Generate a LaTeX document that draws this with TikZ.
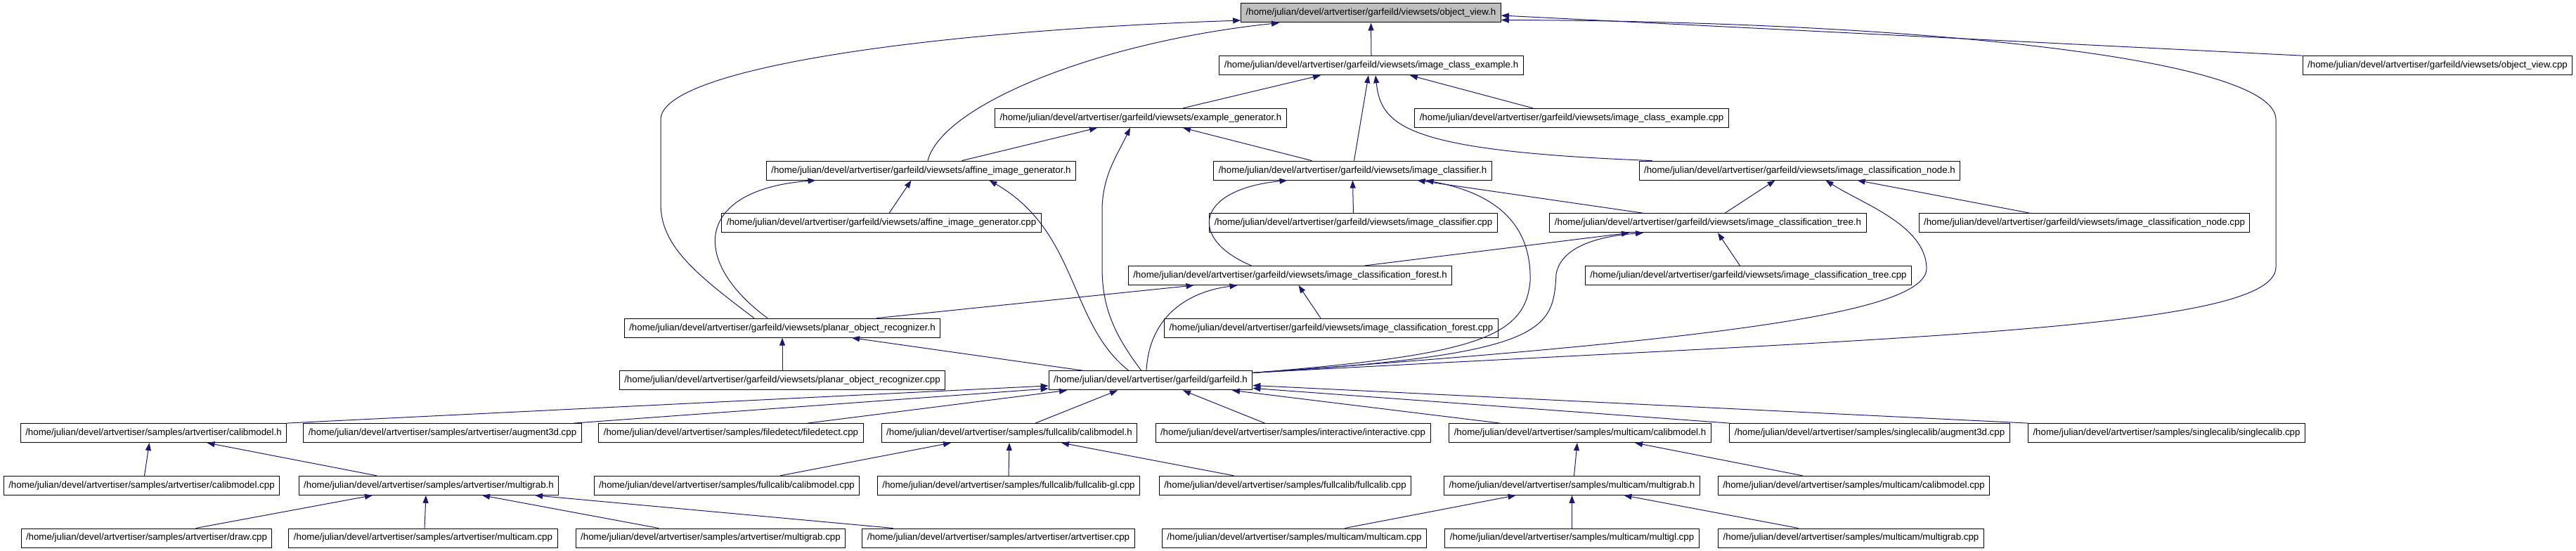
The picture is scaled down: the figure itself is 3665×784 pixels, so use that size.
\documentclass[tikz,border=0pt]{standalone}
\usepackage{fontspec}
\setmainfont{Liberation Sans}
\usetikzlibrary{arrows.meta}
\definecolor{edgeblue}{HTML}{191970}
\definecolor{selgray}{HTML}{BFBFBF}
\begin{document}
\begin{tikzpicture}[x=1pt, y=-1pt,
  file/.style={draw, line width=1pt, minimum height=27pt, inner xsep=7pt, inner ysep=0pt,
    font=\fontsize{13.3}{16}\selectfont},
  dep/.style={draw=edgeblue, line width=1pt, ->, >={Triangle[length=11pt,width=8pt]}}]
\useasboundingbox (0,0) rectangle (3665,784);
\node[file, fill=selgray] (ovh) at (1950.5,18.5) {/home/julian/devel/artvertiser/garfeild/viewsets/object\_view.h};
\node[file] (ice) at (1951,93.2) {/home/julian/devel/artvertiser/garfeild/viewsets/image\_class\_example.h};
\node[file] (ovcpp) at (3468,93.2) {/home/julian/devel/artvertiser/garfeild/viewsets/object\_view.cpp};
\node[file] (egen) at (1623,167.9) {/home/julian/devel/artvertiser/garfeild/viewsets/example\_generator.h};
\node[file] (icecpp) at (2236,167.9) {/home/julian/devel/artvertiser/garfeild/viewsets/image\_class\_example.cpp};
\node[file] (aig) at (1310.5,242.6) {/home/julian/devel/artvertiser/garfeild/viewsets/affine\_image\_generator.h};
\node[file] (icls) at (1924.5,242.6) {/home/julian/devel/artvertiser/garfeild/viewsets/image\_classifier.h};
\node[file] (icn) at (2560.5,242.6) {/home/julian/devel/artvertiser/garfeild/viewsets/image\_classification\_node.h};
\node[file] (aigcpp) at (1254,317.3) {/home/julian/devel/artvertiser/garfeild/viewsets/affine\_image\_generator.cpp};
\node[file] (iclscpp) at (1925.5,317.3) {/home/julian/devel/artvertiser/garfeild/viewsets/image\_classifier.cpp};
\node[file] (ict) at (2430,317.3) {/home/julian/devel/artvertiser/garfeild/viewsets/image\_classification\_tree.h};
\node[file] (icncpp) at (2965.5,317.3) {/home/julian/devel/artvertiser/garfeild/viewsets/image\_classification\_node.cpp};
\node[file] (icf) at (1835.5,392) {/home/julian/devel/artvertiser/garfeild/viewsets/image\_classification\_forest.h};
\node[file] (ictcpp) at (2487.5,392) {/home/julian/devel/artvertiser/garfeild/viewsets/image\_classification\_tree.cpp};
\node[file] (por) at (1113,466.7) {/home/julian/devel/artvertiser/garfeild/viewsets/planar\_object\_recognizer.h};
\node[file] (icfcpp) at (1894,466.7) {/home/julian/devel/artvertiser/garfeild/viewsets/image\_classification\_forest.cpp};
\node[file] (porcpp) at (1113,541.4) {/home/julian/devel/artvertiser/garfeild/viewsets/planar\_object\_recognizer.cpp};
\node[file] (garf) at (1637,541.4) {/home/julian/devel/artvertiser/garfeild/garfeild.h};
\node[file] (acal) at (218.5,616.1) {/home/julian/devel/artvertiser/samples/artvertiser/calibmodel.h};
\node[file] (aaug) at (629.5,616.1) {/home/julian/devel/artvertiser/samples/artvertiser/augment3d.cpp};
\node[file] (fdet) at (1040,616.1) {/home/julian/devel/artvertiser/samples/filedetect/filedetect.cpp};
\node[file] (fcal) at (1436,616.1) {/home/julian/devel/artvertiser/samples/fullcalib/calibmodel.h};
\node[file] (inter) at (1839.5,616.1) {/home/julian/devel/artvertiser/samples/interactive/interactive.cpp};
\node[file] (mcal) at (2248,616.1) {/home/julian/devel/artvertiser/samples/multicam/calibmodel.h};
\node[file] (saug) at (2660,616.1) {/home/julian/devel/artvertiser/samples/singlecalib/augment3d.cpp};
\node[file] (scal) at (3082.5,616.1) {/home/julian/devel/artvertiser/samples/singlecalib/singlecalib.cpp};
\node[file] (acalcpp) at (201.5,690.8) {/home/julian/devel/artvertiser/samples/artvertiser/calibmodel.cpp};
\node[file] (amg) at (610,690.8) {/home/julian/devel/artvertiser/samples/artvertiser/multigrab.h};
\node[file] (fcalcpp) at (1034,690.8) {/home/julian/devel/artvertiser/samples/fullcalib/calibmodel.cpp};
\node[file] (fcalgl) at (1435,690.8) {/home/julian/devel/artvertiser/samples/fullcalib/fullcalib-gl.cpp};
\node[file] (fcalib) at (1828.5,690.8) {/home/julian/devel/artvertiser/samples/fullcalib/fullcalib.cpp};
\node[file] (mmg) at (2236.5,690.8) {/home/julian/devel/artvertiser/samples/multicam/multigrab.h};
\node[file] (mcalcpp) at (2637.5,690.8) {/home/julian/devel/artvertiser/samples/multicam/calibmodel.cpp};
\node[file] (adraw) at (208.5,765.5) {/home/julian/devel/artvertiser/samples/artvertiser/draw.cpp};
\node[file] (amcam) at (602,765.5) {/home/julian/devel/artvertiser/samples/artvertiser/multicam.cpp};
\node[file] (amgcpp) at (1011,765.5) {/home/julian/devel/artvertiser/samples/artvertiser/multigrab.cpp};
\node[file] (artv) at (1420.5,765.5) {/home/julian/devel/artvertiser/samples/artvertiser/artvertiser.cpp};
\node[file] (mmcam) at (1841.5,765.5) {/home/julian/devel/artvertiser/samples/multicam/multicam.cpp};
\node[file] (mgl) at (2236.5,765.5) {/home/julian/devel/artvertiser/samples/multicam/multigl.cpp};
\node[file] (mmgcpp) at (2633.5,765.5) {/home/julian/devel/artvertiser/samples/multicam/multigrab.cpp};
% object_view.h
\draw[dep] (ice.north) -- (ovh.south);
\draw[dep] (ovcpp.north west) -- ([yshift=-3.5pt]ovh.east);
\draw[dep] ([xshift=9.5pt]aig.north) .. controls (1340,150) and (1560,60) .. ([xshift=-130.5pt]ovh.south);
\draw[dep] ([xshift=-40pt]por.north) .. controls (990,390) and (940,350) .. (940,290) -- (940,170)
  .. controls (940,100) and (1300,45) .. ([yshift=-10.5pt]ovh.west);
\draw[dep] ([yshift=-3pt]garf.north east) .. controls (2700,480) and (3238,470) .. (3238,380) -- (3238,170)
  .. controls (3238,80) and (2700,30) .. ([yshift=-10pt]ovh.east);
% image_class_example.h
\draw[dep] ([xshift=60pt]egen.north) -- ([xshift=-72pt]ice.south);
\draw[dep] ([xshift=-55pt]icecpp.north) -- ([xshift=55pt]ice.south);
\draw[dep] ([xshift=2pt]icls.north) -- ([xshift=-4pt]ice.south);
\draw[dep] ([xshift=-210pt]icn.north) .. controls (2000,215) and (1965,180) .. ([xshift=6pt]ice.south);
% example_generator.h
\draw[dep] ([xshift=58pt]aig.north) -- ([xshift=-62pt]egen.south);
\draw[dep] ([xshift=-58pt]icls.north) -- ([xshift=60pt]egen.south);
\draw[dep] ([xshift=-13pt]garf.north) .. controls (1580,470) and (1568,430) .. (1568,380) -- (1568,300)
  .. controls (1568,250) and (1590,220) .. ([xshift=-15pt]egen.south);
% affine_image_generator.h
\draw[dep] ([xshift=11pt]aigcpp.north) -- ([xshift=-14pt]aig.south);
\draw[dep] ([xshift=-21pt]por.north) .. controls (980,370) and (990,270) .. ([xshift=-150pt]aig.south);
\draw[dep] ([xshift=-31pt]garf.north) .. controls (1520,460) and (1535,330) .. ([xshift=97pt]aig.south);
% image_classifier.h
\draw[dep] (iclscpp.north) -- (icls.south);
\draw[dep] ([xshift=-55pt]icf.north) .. controls (1690,340) and (1700,270) .. ([xshift=-93pt]icls.south);
\draw[dep] ([xshift=-92pt]ict.north) -- ([xshift=92pt]icls.south);
\draw[dep] ([yshift=-3pt]garf.north east) .. controls (2100,505) and (2170,480) .. (2177,400)
  .. controls (2180,300) and (2100,270) .. ([xshift=104pt]icls.south);
% image_classification_node.h
\draw[dep] ([xshift=24pt]ict.north) -- ([xshift=-35pt]icn.south);
\draw[dep] ([xshift=-77pt]icncpp.north) -- ([xshift=82pt]icn.south);
\draw[dep] ([yshift=-3pt]garf.north east) .. controls (2500,480) and (2745,440) .. (2741,380)
  .. controls (2738,320) and (2650,290) .. ([xshift=37pt]icn.south);
% image_classification_tree.h
\draw[dep] ([xshift=106pt]icf.north) -- ([xshift=-112pt]ict.south);
\draw[dep] ([xshift=-12pt]ictcpp.north) -- ([xshift=14pt]ict.south);
\draw[dep] ([yshift=-3pt]garf.north east) .. controls (2200,505) and (2210,470) .. (2214,390)
  .. controls (2222,345) and (2290,335) .. ([xshift=-92pt]ict.south);
% image_classification_forest.h
\draw[dep] ([xshift=134pt]por.north) -- ([xshift=-137pt]icf.south);
\draw[dep] ([xshift=-6pt]garf.north) .. controls (1635,450) and (1690,415) .. ([xshift=-75pt]icf.south);
\draw[dep] ([xshift=-15pt]icfcpp.north) -- ([xshift=12pt]icf.south);
% planar_object_recognizer.h
\draw[dep] (porcpp.north) -- (por.south);
\draw[dep] ([xshift=-95pt]garf.north) -- ([xshift=99pt]por.south);
% garfeild.h
\draw[dep] (acal.north east) -- ([yshift=-7.5pt]garf.west);
\draw[dep] ([xshift=187pt]aaug.north) -- ([yshift=-11.5pt]garf.west);
\draw[dep] ([xshift=109pt]fdet.north) -- ([xshift=-119pt]garf.south);
\draw[dep] ([xshift=37pt]fcal.north) -- ([xshift=-47pt]garf.south);
\draw[dep] ([xshift=-40pt]inter.north) -- ([xshift=46pt]garf.south);
\draw[dep] ([xshift=-114pt]mcal.north) -- ([xshift=116pt]garf.south);
\draw[dep] (saug.north west) -- ([yshift=-11pt]garf.east);
\draw[dep] (scal.north west) -- ([yshift=-7pt]garf.east);
% artvertiser
\draw[dep] ([xshift=4pt]acalcpp.north) -- ([xshift=-6pt]acal.south);
\draw[dep] ([xshift=-74pt]amg.north) -- ([xshift=76pt]acal.south);
\draw[dep] ([xshift=70pt]adraw.north) -- ([xshift=-80pt]amg.south);
\draw[dep] ([xshift=2pt]amcam.north) -- ([xshift=-4pt]amg.south);
\draw[dep] ([xshift=-74pt]amgcpp.north) -- ([xshift=76pt]amg.south);
\draw[dep] ([xshift=-150pt]artv.north) -- ([xshift=151pt]amg.south);
% fullcalib
\draw[dep] ([xshift=76pt]fcalcpp.north) -- ([xshift=-83pt]fcal.south);
\draw[dep] (fcalgl.north) -- (fcal.south);
\draw[dep] ([xshift=-73pt]fcalib.north) -- ([xshift=74pt]fcal.south);
% multicam
\draw[dep] ([xshift=3pt]mmg.north) -- ([xshift=-4pt]mcal.south);
\draw[dep] ([xshift=-73pt]mcalcpp.north) -- ([xshift=78pt]mcal.south);
\draw[dep] ([xshift=72pt]mmcam.north) -- ([xshift=-80pt]mmg.south);
\draw[dep] (mgl.north) -- (mmg.south);
\draw[dep] ([xshift=-75pt]mmgcpp.north) -- ([xshift=74pt]mmg.south);
\end{tikzpicture}
\end{document}
